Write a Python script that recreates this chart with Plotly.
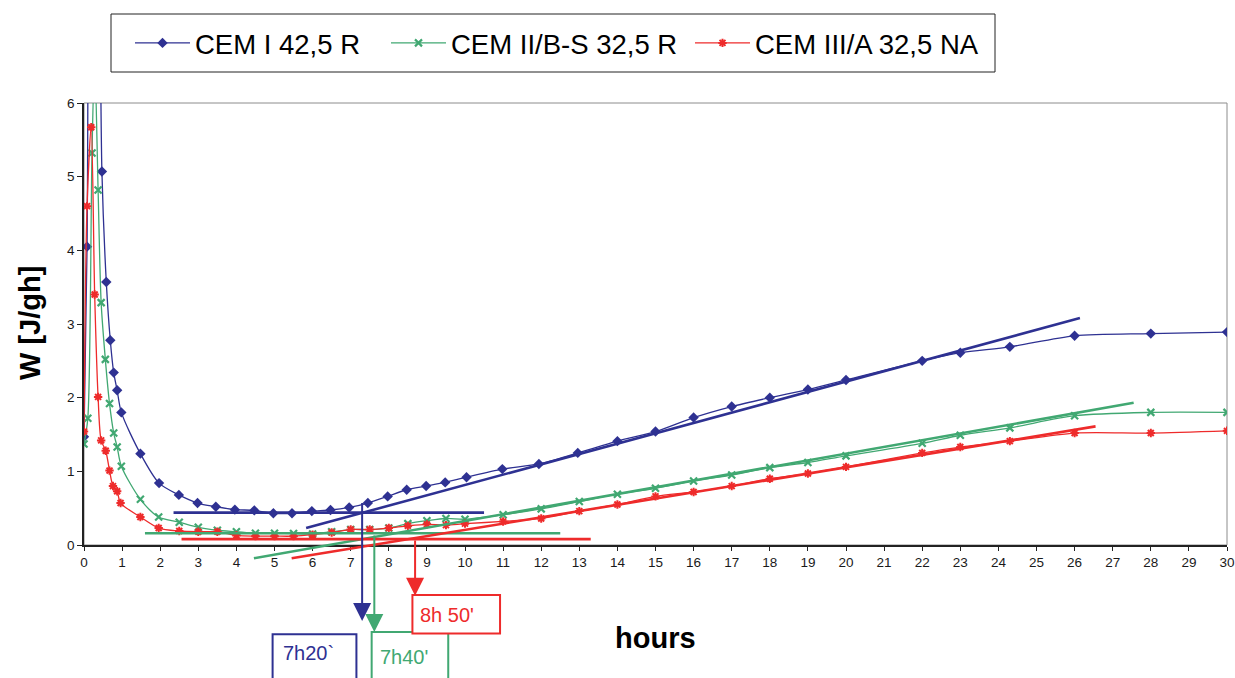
import plotly.graph_objects as go

# ---------------- data ----------------
series_names = ["CEM I 42,5 R", "CEM II/B-S 32,5 R", "CEM III/A 32,5 NA"]

blue_x = [0, 0.08, 0.17, 0.33, 0.47, 0.585, 0.69, 0.78, 0.87, 0.98, 1.48, 1.97, 2.49, 2.98,
          3.46, 3.96, 4.47, 4.97, 5.46, 5.98, 6.47, 6.96, 7.45, 7.97, 8.47, 8.98, 9.48, 10.04,
          10.98, 11.94, 12.96, 14, 15, 16, 17, 18, 19, 20, 22, 23, 24.3, 26, 28, 30]
blue_y = [1.47, 4.05, 9.5, 10.5, 5.07, 3.57, 2.78, 2.34, 2.10, 1.80, 1.24, 0.84, 0.68, 0.57,
          0.52, 0.48, 0.47, 0.43, 0.43, 0.46, 0.475, 0.51, 0.57, 0.66, 0.75, 0.80, 0.85, 0.92,
          1.03, 1.10, 1.25, 1.41, 1.54, 1.73, 1.88, 2.00, 2.11, 2.24, 2.50, 2.61, 2.69, 2.84, 2.87, 2.89]

green_x = [0, 0.1, 0.21, 0.28, 0.37, 0.45, 0.56, 0.67, 0.78, 0.87, 0.98, 1.48, 1.96, 2.5, 3,
           3.5, 4, 4.5, 5, 5.5, 6, 6.5, 7, 7.5, 8, 8.5, 9, 9.5, 10, 11, 12, 13, 14, 15, 16, 17,
           18, 19, 20, 22, 23, 24.3, 26, 28, 30]
green_y = [1.37, 1.72, 5.32, 6.6, 4.82, 3.29, 2.52, 1.92, 1.52, 1.33, 1.07, 0.62, 0.38, 0.31, 0.24,
           0.20, 0.18, 0.16, 0.16, 0.155, 0.15, 0.18, 0.21, 0.21, 0.23, 0.29, 0.33, 0.36, 0.35, 0.41,
           0.49, 0.59, 0.69, 0.77, 0.87, 0.95, 1.05, 1.12, 1.21, 1.38, 1.49, 1.59, 1.755, 1.80, 1.80]

red_x = [0, 0.08, 0.19, 0.28, 0.37, 0.45, 0.57, 0.67, 0.76, 0.87, 0.96, 1.48, 1.96, 2.5, 3,
         3.5, 4, 4.5, 5, 5.5, 6, 6.5, 7, 7.5, 8, 8.5, 9, 9.5, 10, 11, 12, 13, 14, 15, 16, 17,
         18, 19, 20, 22, 23, 24.3, 26, 28, 30]
red_y = [1.54, 4.60, 5.67, 3.40, 2.01, 1.42, 1.28, 1.01, 0.80, 0.73, 0.57, 0.38, 0.23, 0.19, 0.18,
         0.18, 0.13, 0.12, 0.12, 0.12, 0.14, 0.17, 0.21, 0.21, 0.23, 0.26, 0.28, 0.27, 0.29, 0.32,
         0.36, 0.46, 0.55, 0.66, 0.72, 0.80, 0.90, 0.97, 1.06, 1.25, 1.33, 1.41, 1.52, 1.52, 1.55]

# hand-drawn construction lines (start/end in hours and J/gh)
blue_trend_x = [5.83, 26.14]
blue_trend_y = [0.23, 3.08]
blue_level_x = [2.35, 10.5]
blue_level_y = [0.44, 0.44]
green_trend_x = [4.46, 27.55]
green_trend_y = [-0.18, 1.93]
green_level_x = [1.6, 12.5]
green_level_y = [0.16, 0.16]
red_trend_x = [5.45, 26.55]
red_trend_y = [-0.18, 1.61]
red_level_x = [2.56, 13.3]
red_level_y = [0.08, 0.08]

# setting-time arrows: x (hours), top and tip (J/gh)
setting_labels = ["7h20`", "7h40'", "8h 50'"]
arrow_x = [7.30, 7.62, 8.69]
arrow_top = [0.59, 0.15, 0.08]
arrow_tip = [-1.03, -1.18, -0.69]

x_ticks = list(range(0, 31))
y_ticks = [0, 1, 2, 3, 4, 5, 6]

# ---------------- style ----------------
BLUE = "#2E3192"
GREEN = "#41A872"
RED = "#EE2B2B"
FONT = "Liberation Sans"
W, H = 1235, 678
ML, MR, MT, MB = 84, 8, 103, 133
PLOT_H = H - MT - MB
PLOT_W = W - ML - MR
YMAX = 6.0
BOTTOM = H - MB


def yp(v):
    """J/gh value -> paper coordinate"""
    return v / YMAX


def px_x(p):
    return (p - ML) / PLOT_W


def px_y(p):
    return (BOTTOM - p) / PLOT_H


fig = go.Figure()

fig.add_trace(go.Scatter(x=blue_x, y=blue_y, name=series_names[0], mode="lines+markers",
                         legend="legend",
                         line=dict(color=BLUE, width=1.3, shape="spline", smoothing=0.8),
                         marker=dict(symbol="diamond", size=8, color=BLUE)))
fig.add_trace(go.Scatter(x=green_x, y=green_y, name=series_names[1], mode="lines+markers",
                         legend="legend2",
                         line=dict(color=GREEN, width=1.3, shape="spline", smoothing=0.8),
                         marker=dict(symbol="x-thin-open", size=7, color=GREEN,
                                     line=dict(color=GREEN, width=2.2))))
fig.add_trace(go.Scatter(x=red_x, y=red_y, name=series_names[2], mode="lines+markers",
                         legend="legend3",
                         line=dict(color=RED, width=1.3, shape="spline", smoothing=0.8),
                         marker=dict(symbol="asterisk-open", size=7, color=RED,
                                     line=dict(color=RED, width=2.0))))

shapes = []
# plot-area border (grey, top/right)
shapes.append(dict(type="rect", xref="paper", yref="paper", x0=0, x1=1, y0=0, y1=1,
                   line=dict(color="#8C8C8C", width=1), layer="below"))
# legend frame
shapes.append(dict(type="rect", xref="paper", yref="paper", x0=px_x(111), x1=px_x(995),
                   y0=px_y(72), y1=px_y(14), line=dict(color="#222", width=1), layer="below"))

for xs, ys, col in [(blue_level_x, blue_level_y, BLUE), (blue_trend_x, blue_trend_y, BLUE),
                    (green_level_x, green_level_y, GREEN), (green_trend_x, green_trend_y, GREEN),
                    (red_level_x, red_level_y, RED), (red_trend_x, red_trend_y, RED)]:
    shapes.append(dict(type="line", xref="x", yref="paper", x0=xs[0], x1=xs[1],
                       y0=yp(ys[0]), y1=yp(ys[1]), line=dict(color=col, width=2.6),
                       layer="above"))

annotations = []
cols = [BLUE, GREEN, RED]
for i in range(3):
    length_px = (arrow_top[i] - arrow_tip[i]) / YMAX * PLOT_H
    annotations.append(dict(x=arrow_x[i], y=yp(arrow_tip[i]), xref="x", yref="paper",
                            text="", showarrow=True, ax=0, ay=-length_px,
                            arrowhead=2, arrowsize=1.8, arrowwidth=2, arrowcolor=cols[i],
                            standoff=0, startstandoff=0))

# label boxes (left x in hours, top/bottom in J/gh)
box_x0 = [4.95, 7.55, 8.62]
box_x1 = [7.15, 9.56, 10.92]
box_top = [-1.21, -1.18, -0.68]
box_bot = [-2.2, -2.2, -1.20]
text_x = [5.17, 7.72, 8.77]
text_y = [-1.47, -1.52, -0.95]
for i in range(3):
    shapes.append(dict(type="rect", xref="x", yref="paper", x0=box_x0[i], x1=box_x1[i],
                       y0=yp(box_bot[i]), y1=yp(box_top[i]),
                       line=dict(color=cols[i], width=2), fillcolor="white", layer="above"))
    annotations.append(dict(x=text_x[i], y=yp(text_y[i]), xref="x", yref="paper",
                            text=setting_labels[i], showarrow=False, xanchor="left",
                            yanchor="middle", font=dict(family=FONT, size=20, color=cols[i])))

# axis titles
annotations.append(dict(x=0.5, y=px_y(638), xref="paper", yref="paper",
                        text="<b>hours</b>", showarrow=False, xanchor="center",
                        yanchor="middle", font=dict(family=FONT, size=29, color="black")))
annotations.append(dict(x=0, y=px_y(323), xref="paper", yref="paper",
                        text="<b>W [J/gh]</b>", showarrow=False, textangle=-90,
                        xanchor="center", yanchor="middle", xshift=-54,
                        font=dict(family=FONT, size=29, color="black")))

legend_common = dict(orientation="h", xanchor="left", yanchor="middle", borderwidth=0,
                     bgcolor="rgba(0,0,0,0)", itemwidth=55,
                     font=dict(family=FONT, size=27.5, color="black"))

fig.update_layout(
    width=W, height=H, autosize=False,
    margin=dict(l=ML, r=MR, t=MT, b=MB, pad=0),
    paper_bgcolor="white", plot_bgcolor="white",
    font=dict(family=FONT, color="#222"),
    shapes=shapes, annotations=annotations,
    showlegend=True,
    legend=dict(x=px_x(130), y=px_y(43), **legend_common),
    legend2=dict(x=px_x(386), y=px_y(43), **legend_common),
    legend3=dict(x=px_x(690), y=px_y(43), **legend_common),
    xaxis=dict(range=[0, 30], tickvals=x_ticks, ticks="outside", ticklen=4, tickwidth=1,
               tickcolor="#222", showline=True, linecolor="#222", linewidth=1.5,
               showgrid=False, zeroline=False, automargin=False,
               tickfont=dict(family=FONT, size=13.5, color="#1a1a1a")),
    yaxis=dict(range=[0, YMAX], tickvals=y_ticks, ticks="outside", ticklen=5, tickwidth=1,
               tickcolor="#222", showline=True, linecolor="#222", linewidth=1.5,
               showgrid=False, zeroline=False, automargin=False,
               tickfont=dict(family=FONT, size=13.5, color="#1a1a1a")),
)

fig.write_html("out.html", config={"displayModeBar": False},
               post_script="document.body.style.margin='0px';")
